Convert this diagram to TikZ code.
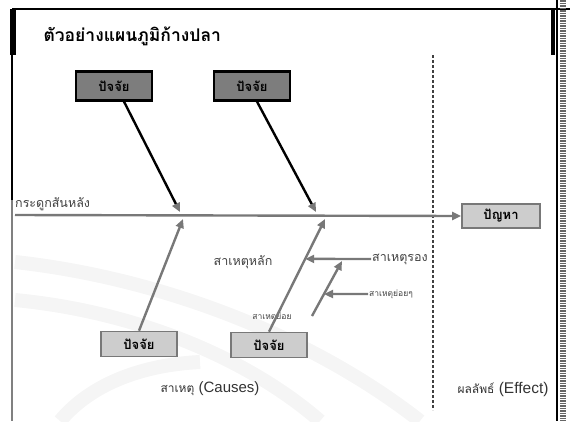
\documentclass[tikz,border=0pt]{standalone}
\usepackage{fontspec}
\setmainfont{Liberation Sans}
\newfontfamily\thaifont[Script=Thai]{Loma}
\usetikzlibrary{arrows.meta, positioning, calc}
\definecolor{bone}{RGB}{120,120,120}
\definecolor{boxgray}{RGB}{205,205,205}
\definecolor{darkbox}{RGB}{125,125,125}

\begin{document}
\begin{tikzpicture}[
    x=1pt, y=-1pt,
    factor/.style={draw=black, line width=2.2pt, fill=darkbox, minimum width=76pt, minimum height=29pt,
                   font=\thaifont\bfseries\fontsize{13}{13}\selectfont, text=black},
    lowfactor/.style={factor, draw=bone, fill=boxgray, line width=1.6pt, minimum height=25pt},
    effectbox/.style={lowfactor, minimum width=78pt, minimum height=24pt},
    lbl/.style={font=\thaifont\fontsize{12.5}{12.5}\selectfont, text=black!75, inner sep=1pt},
    smalllbl/.style={lbl, font=\thaifont\fontsize{8.5}{8.5}\selectfont},
    arr/.style={-{Triangle[length=9pt, width=8pt]}, line width=2.4pt, draw=bone},
    rib/.style={-{Triangle[length=9pt, width=8pt, color=bone]}, line width=2.4pt, draw=black},
    wm/.style={draw=gray!8, line width=14pt}
  ]
  \useasboundingbox (0,0) rectangle (570,421);

  % watermark bands
  \draw[wm] (15,262) .. controls (160,278) and (310,335) .. (420,421);
  \draw[wm] (15,300) .. controls (140,312) and (250,360) .. (320,421);
  \draw[wm] (60,421) .. controls (90,385) and (140,365) .. (200,362);

  % slide frame
  \draw[line width=1.5pt] (12,9) -- (570,9);
  \draw[line width=2.5pt] (42,9) -- (195,9);
  \fill (10,9) rectangle (16,55);
  \draw[line width=1.8pt] (12,55) -- (12,200);
  \draw[line width=1.8pt, gray] (12,200) -- (12,421);
  \fill (551,9) rectangle (555,55);
  \draw[line width=1.5pt] (557,0) -- (557,421);
  \draw[line width=6pt, black!60, dash pattern=on 1.5pt off 1pt] (563,0) -- (563,421);

  % title
  \node[font=\thaifont\bfseries\fontsize{17.5}{17.5}\selectfont, anchor=west] (title) at (40,36) {ตัวอย่างแผนภูมิก้างปลา};

  % Nodes – factors and effect
  \node[factor]    (topA)   at (114,86)  {ปัจจัย};
  \node[factor]    (topB)   at (252,86)  {ปัจจัย};
  \node[lowfactor] (botA)   at (139,344) {ปัจจัย};
  \node[lowfactor] (botB)   at (269,345) {ปัจจัย};
  \node[effectbox] (effect) at (501,216) {ปัญหา};

  % spine and joints
  \coordinate (tail)  at (15,215);
  \coordinate (jTopA) at (180,212);
  \coordinate (jTopB) at (316,212);
  \coordinate (jBotA) at (183,219);
  \coordinate (jBotB) at (325,219);

  % divider between causes and effect
  \coordinate (divTop) at (433,55);
  \coordinate (divBot) at (433,410);
  \draw[line width=2.2pt, black!75, dash pattern=on 3pt off 2pt] (divTop) -- (divBot);

  % Labels
  \node[lbl, anchor=south west] (spine) at (14,212) {กระดูกสันหลัง};
  \node[lbl] (mainCause) at (243,262) {สาเหตุหลัก};
  \node[lbl, anchor=west] (second) at (371,259) {สาเหตุรอง};
  \node[smalllbl, anchor=west] (subsub) at (368,294) {สาเหตุย่อยๆ};
  \node[smalllbl] (sub) at (272,317) {สาเหตุย่อย};
  \node[anchor=center, font=\fontsize{15}{15}\selectfont, text=black!80] (causes) at (210,389)
    {{\thaifont\fontsize{12}{12}\selectfont สาเหตุ} (Causes)};
  \node[anchor=center, font=\fontsize{15.5}{15.5}\selectfont, text=black!80] (effLbl) at (503,389)
    {{\thaifont\fontsize{12}{12}\selectfont ผลลัพธ์} (Effect)};

  % Arrows – spine and main ribs
  \draw[arr] (tail) -- (effect.west);
  \draw[rib] ([xshift=10pt]topA.south) -- (jTopA);
  \draw[rib] ([xshift=5pt]topB.south) -- (jTopB);
  \draw[arr] (botA.north) -- (jBotA);
  \draw[arr] (botB.north) -- (jBotB);

  % Arrows – secondary causes
  \coordinate (onRib) at ($(botB.north)!0.646!(jBotB)$);
  \draw[arr] (second.west) -- (onRib);
  \coordinate (subStart) at (312,316);
  \coordinate (subEnd) at (342,261);
  \draw[arr] (subStart) -- (subEnd);
  \coordinate (onSub) at ($(subStart)!0.4!(subEnd)$);
  \draw[arr] (subsub.west) -- (onSub);
\end{tikzpicture}
\end{document}
